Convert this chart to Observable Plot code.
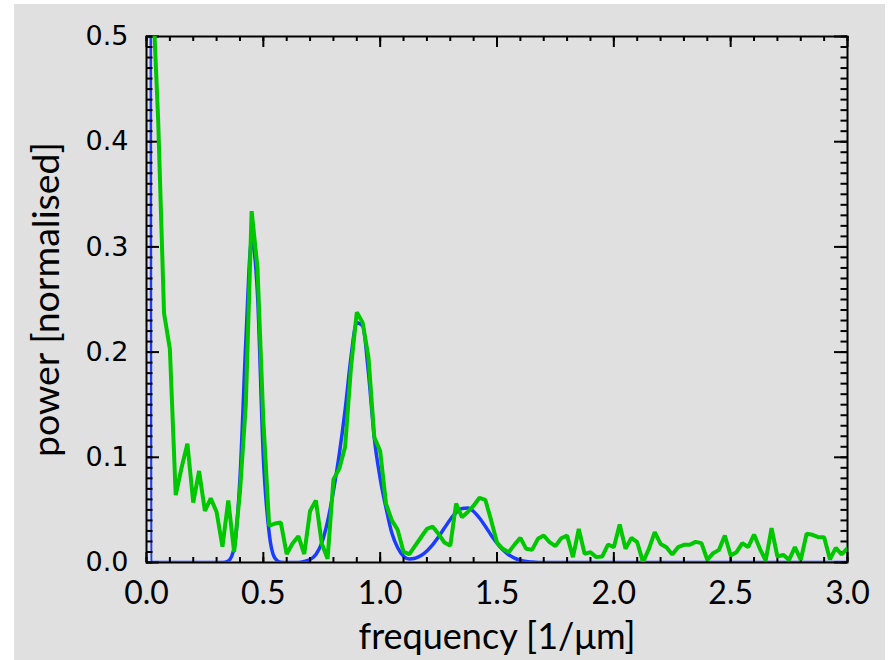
<!DOCTYPE html>
<html><head><meta charset="utf-8">
<script src="https://cdn.jsdelivr.net/npm/d3@7"></script>
<script src="https://cdn.jsdelivr.net/npm/@observablehq/plot@0.6"></script>
<style>
html,body{margin:0;padding:0;background:#fff;}
#wrap{position:relative;width:893px;height:660px;overflow:hidden;}
#bg{position:absolute;left:14px;top:4px;width:871px;height:656px;background:#e0e0e0;}
#chart{position:absolute;left:0;top:0;}
</style></head><body>
<div id="wrap"><div id="bg"></div><div id="chart"></div></div>
<script>
// measured spectrum (green)
const measuredFreq = [0.025,0.05,0.075,0.1,0.125,0.15,0.175,0.2,0.225,0.25,0.275,0.3,0.325,0.35,0.375,0.4,0.425,0.45,0.475,0.5,
0.525,0.55,0.575,0.6,0.625,0.65,0.675,0.7,0.725,0.75,0.775,0.8,0.825,0.85,0.875,0.9,0.925,0.95,0.975,1.0,
1.025,1.05,1.075,1.1,1.125,1.15,1.175,1.2,1.225,1.25,1.275,1.3,1.325,1.35,1.375,1.4,1.425,1.45,1.475,1.5,
1.525,1.55,1.575,1.6,1.625,1.65,1.675,1.7,1.725,1.75,1.775,1.8,1.825,1.85,1.875,1.9,1.925,1.95,1.975,2.0,
2.025,2.05,2.075,2.1,2.125,2.15,2.175,2.2,2.225,2.25,2.275,2.3,2.325,2.35,2.375,2.4,2.425,2.45,2.475,2.5,
2.525,2.55,2.575,2.6,2.625,2.65,2.675,2.7,2.725,2.75,2.775,2.8,2.825,2.85,2.875,2.9,2.925,2.95,2.975,3.0];
const measuredPower = [0.55,0.42,0.237,0.203,0.064,0.09,0.113,0.057,0.087,0.049,0.061,0.048,0.015,0.059,0.010,0.067,0.15,0.334,0.28,0.135,
0.035,0.037,0.038,0.008,0.018,0.025,0.008,0.049,0.059,0.018,0.0035,0.079,0.089,0.11,0.185,0.238,0.228,0.195,0.119,0.106,
0.056,0.04,0.031,0.01,0.008,0.016,0.024,0.032,0.034,0.027,0.019,0.016,0.056,0.043,0.048,0.054,0.0615,0.0596,0.04,0.019,
0.013,0.0098,0.017,0.0234,0.013,0.012,0.0225,0.0257,0.0193,0.0155,0.0231,0.0257,0.0051,0.032,0.0082,0.0098,0.0051,0.0057,0.0171,0.0146,
0.0361,0.013,0.0234,0.0193,0.0003,0.013,0.0288,0.0177,0.0146,0.0076,0.0146,0.0168,0.0168,0.0196,0.0184,0.0025,0.0089,0.012,0.0257,0.0067,
0.0098,0.0184,0.0146,0.0266,0.013,0.0019,0.0326,0.0057,0.0073,0.0025,0.0146,0.0025,0.0273,0.0263,0.0241,0.0241,0.0029,0.0139,0.0076,0.0136];

// model spectrum (blue)
const modelFreq = [0,0.025,0.325,0.35,0.375,0.4,0.425,0.45,0.475,0.5,0.525,0.55,0.575,0.6,0.65,0.675,0.7,0.725,0.75,0.775,
0.8,0.825,0.85,0.875,0.9,0.925,0.95,0.975,1.0,1.025,1.05,1.075,1.1,1.125,1.15,1.175,1.2,1.225,1.25,1.275,
1.3,1.325,1.35,1.375,1.4,1.425,1.45,1.475,1.5,1.525,1.55,1.575,1.6,1.625,1.65,1.7,3.0];
const modelPower = [10,0,0,0.0014,0.0136,0.08,0.21,0.306,0.255,0.1,0.028,0.004,0.0002,0,0,0.0009,0.0028,0.0077,0.0185,0.039,
0.068,0.103,0.145,0.195,0.228,0.225,0.18,0.118,0.08,0.052,0.028,0.014,0.006,0.0033,0.004,0.0066,0.011,0.017,0.0244,0.0327,
0.0409,0.0475,0.0513,0.0517,0.0485,0.0423,0.0344,0.026,0.0184,0.012,0.0074,0.0042,0.0022,0.001,0.0005,0,0];

const xTickLabels = [0, 0.5, 1.0, 1.5, 2.0, 2.5, 3.0];
const yTickLabels = [0, 0.1, 0.2, 0.3, 0.4, 0.5];
const xMinor = d3.range(0, 31).map(i => i / 10);
const yMinor = d3.range(0, 51).map(i => i / 100);
const xLabel = "frequency [1/μm]";
const yLabel = "power [normalised]";

const W = 893, H = 660;
const mL = 146, mR = 46, mT = 36, mB = 98;
const fw = W - mL - mR, fh = H - mT - mB;

const green = measuredFreq.map((f, i) => ({f, p: measuredPower[i]}));
const blue = modelFreq.map((f, i) => ({f, p: modelPower[i]}));

const tickStyle = {stroke: "black", strokeWidth: 2};
const humanist = "Lato, 'Open Sans', sans-serif";

const chart = Plot.plot({
  width: W, height: H,
  marginLeft: mL, marginRight: mR, marginTop: mT, marginBottom: mB,
  style: {background: "transparent", overflow: "visible"},
  x: {domain: [0, 3], axis: null},
  y: {domain: [0, 0.5], axis: null},
  marks: [
    Plot.frame({stroke: "black", strokeWidth: 2}),
    Plot.line(blue, {x: "f", y: "p", stroke: "#1a3cff", strokeWidth: 3.5, curve: "monotone-x", clip: true}),
    Plot.tickX(xMinor, {x: d => d, insetTop: fh - 5, ...tickStyle}),
    Plot.tickX(xMinor, {x: d => d, insetBottom: fh - 5, ...tickStyle}),
    Plot.tickX(xTickLabels, {x: d => d, insetTop: fh - 10, ...tickStyle}),
    Plot.tickX(xTickLabels, {x: d => d, insetBottom: fh - 11, ...tickStyle}),
    Plot.tickY(yMinor, {y: d => d, insetRight: fw - 6.5, ...tickStyle}),
    Plot.tickY(yMinor, {y: d => d, insetLeft: fw - 6.5, ...tickStyle}),
    Plot.tickY(yTickLabels, {y: d => d, insetRight: fw - 13, ...tickStyle}),
    Plot.tickY(yTickLabels, {y: d => d, insetLeft: fw - 13, ...tickStyle}),
    Plot.line(green, {x: "f", y: "p", stroke: "#00c800", strokeWidth: 4, strokeLinejoin: "miter", clip: true}),
    Plot.text(xTickLabels, {x: d => d, frameAnchor: "bottom", dy: 31, lineAnchor: "middle", text: d => d.toFixed(1),
      fontSize: 32, fontFamily: humanist, fill: "black"}),
    Plot.text(yTickLabels, {y: d => d, frameAnchor: "left", dx: -18, textAnchor: "end", lineAnchor: "middle", text: d => d.toFixed(1),
      fontSize: 27, fontFamily: "'DejaVu Sans', sans-serif", fill: "black"}),
    Plot.text([xLabel], {frameAnchor: "bottom", dy: 75, lineAnchor: "middle", textAnchor: "middle", text: d => d,
      fontSize: 36, fontFamily: humanist, fill: "black"}),
    Plot.text([yLabel], {frameAnchor: "left", dx: -99, rotate: -90, lineAnchor: "middle", textAnchor: "middle", text: d => d,
      fontSize: 36, fontFamily: humanist, fill: "black"})
  ]
});
// fit axis-title widths to the reference
d3.select(chart).selectAll("text").each(function() {
  const t = this.textContent;
  const target = t === xLabel ? 277 : t === yLabel ? 315 : 0;
  if (target) { this.setAttribute("textLength", target); this.setAttribute("lengthAdjust", "spacingAndGlyphs"); }
});
document.getElementById("chart").appendChild(chart);
</script>
</body></html>
